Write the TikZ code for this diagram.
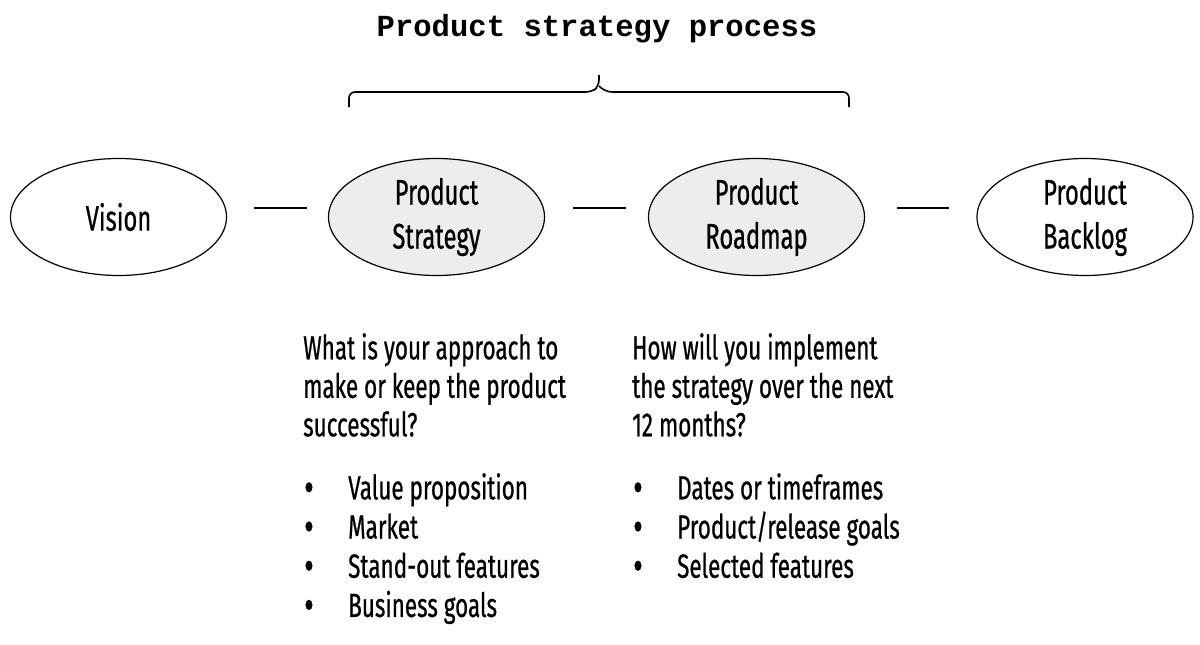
\documentclass[tikz,border=0pt]{standalone}
\usepackage{fontspec}
\setmainfont[FakeStretch=0.67, FakeBold=0.6]{Fira Sans}
\newfontfamily\titlefont{Liberation Mono}
\usetikzlibrary{calc,shapes.geometric}
\tikzset{
  stage/.style={ellipse, draw=black, line width=1.2pt, minimum width=216pt, minimum height=117pt, inner sep=0pt, align=center, font=\fontsize{35.5}{44}\selectfont},
  core/.style={stage, fill=black!7},
  link/.style={line width=1.6pt},
  para/.style={anchor=north west, inner sep=0pt, align=left, font=\fontsize{33.5}{38.5}\selectfont},
  list/.style={para, font=\fontsize{33.5}{39.2}\selectfont},
}
\newcommand\itm{\makebox[0pt][l]{\hspace{1pt}\raisebox{-3pt}{\smash{\fontsize{44}{0}\selectfont\textbullet}}}\hspace{45pt}}
\begin{document}
\begin{tikzpicture}[x=1pt,y=-1pt]
\useasboundingbox (0,0) rectangle (1200,645);
\node[font=\titlefont\bfseries\fontsize{30.6}{30}\selectfont] (title) at (597,29) {Product strategy process};
\node[stage] (v) at (118.5,217) {Vision};
\node[core] (ps) at (436.5,217) {Product\\Strategy};
\node[core] (pr) at (756.5,217) {Product\\Roadmap};
\node[stage] (pb) at (1085,217) {Product\\Backlog};
\draw[link] ($(v.east)+(27,-9)$) -- ($(ps.west)+(-21,-9)$);
\draw[link] ($(ps.east)+(28,-9)$) -- ($(pr.west)+(-22,-9)$);
\draw[link] ($(pr.east)+(32,-9)$) -- ($(pb.west)+(-27,-9)$);
\coordinate (bl) at (349,107);
\coordinate (br) at (849,107);
\draw[line width=1.6pt, rounded corners=6pt] (bl) -- (349,92) -- (592,92) -- (599,86) -- (599,75) (599,86) -- (606,92) -- (849,92) -- (br);
\node[para] (q1) at (303,333) {What is your approach to\\make or keep the product\\successful?};
\node[para] (q2) at (632,333) {How will you implement\\the strategy over the next\\12 months?};
\node[list] (l1) at (303,473) {\itm Value proposition\\\itm Market\\\itm Stand-out features\\\itm Business goals};
\node[list] (l2) at (632,473) {\itm Dates or timeframes\\\itm Product/release goals\\\itm Selected features};
\end{tikzpicture}
\end{document}
